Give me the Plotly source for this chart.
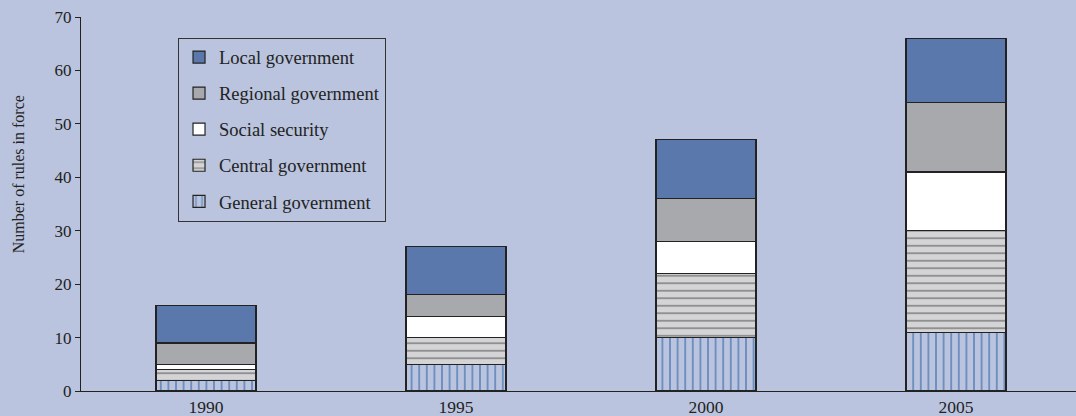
import plotly.graph_objects as go

years = ["1990", "1995", "2000", "2005"]
general = [2, 5, 10, 11]
central = [2, 5, 12, 19]
social = [1, 4, 6, 11]
regional = [4, 4, 8, 13]
local = [7, 9, 11, 12]
y_ticks = [0, 10, 20, 30, 40, 50, 60, 70]

BG = "#BAC4DE"
xpos = list(range(len(years)))
font = "Liberation Serif, Times New Roman, serif"

series = [
    ("General government", general, 5, dict(color=BG, pattern=dict(shape="|", fgcolor="#24599F", bgcolor=BG, size=7.6, solidity=0.25))),
    ("Central government", central, 4, dict(color="#D4D4D6", pattern=dict(shape="-", fgcolor="#2A2A2A", bgcolor="#D4D4D6", size=7.5, solidity=0.2))),
    ("Social security", social, 3, dict(color="#FFFFFF")),
    ("Regional government", regional, 2, dict(color="#A8A9AD")),
    ("Local government", local, 1, dict(color="#5A78AB")),
]

fig = go.Figure()
for name, vals, rank, m in series:
    m = dict(m)
    m["line"] = dict(color="#222222", width=1.2)
    fig.add_trace(go.Bar(x=xpos, y=vals, name=name, marker=m, width=0.4,
                         legendgroup=name, legendrank=rank))

fig.update_layout(
    width=1076, height=416,
    barmode="stack",
    paper_bgcolor=BG, plot_bgcolor=BG,
    margin=dict(l=81, r=0, t=17, b=25, autoexpand=False),
    font=dict(family=font, size=17, color="#222222"),
    showlegend=True,
    legend=dict(
        traceorder="grouped", tracegroupgap=9,
        x=0.0975, y=0.945, xanchor="left", yanchor="top",
        bordercolor="#333333", borderwidth=1, bgcolor="rgba(0,0,0,0)",
        font=dict(family=font, size=18.5, color="#222222"),
    ),
    xaxis=dict(
        range=[-0.5, 3.48], tickvals=xpos, ticktext=years,
        showline=True, linecolor="#222222", linewidth=1.2,
        showgrid=False, zeroline=False, ticks="", ticklabelstandoff=0,
        tickfont=dict(family=font, size=17.5, color="#222222"),
        automargin=False,
    ),
    yaxis=dict(
        range=[0, 70], tickvals=y_ticks,
        showline=True, linecolor="#222222", linewidth=1.2,
        showgrid=False, zeroline=False, ticks="outside", ticklen=5,
        tickcolor="#222222", tickwidth=1.2,
        tickfont=dict(family=font, size=17, color="#222222"),
        automargin=False,
    ),
    annotations=[dict(
        text="Number of rules in force", textangle=-90,
        xref="paper", yref="paper", x=-0.0625, y=0.579,
        xanchor="center", yanchor="middle", showarrow=False,
        font=dict(family=font, size=16, color="#222222"),
    )],
)

fig.write_html("out.html", config={"displayModeBar": False},
               post_script="document.body.style.margin='0';document.body.style.overflow='hidden';")
